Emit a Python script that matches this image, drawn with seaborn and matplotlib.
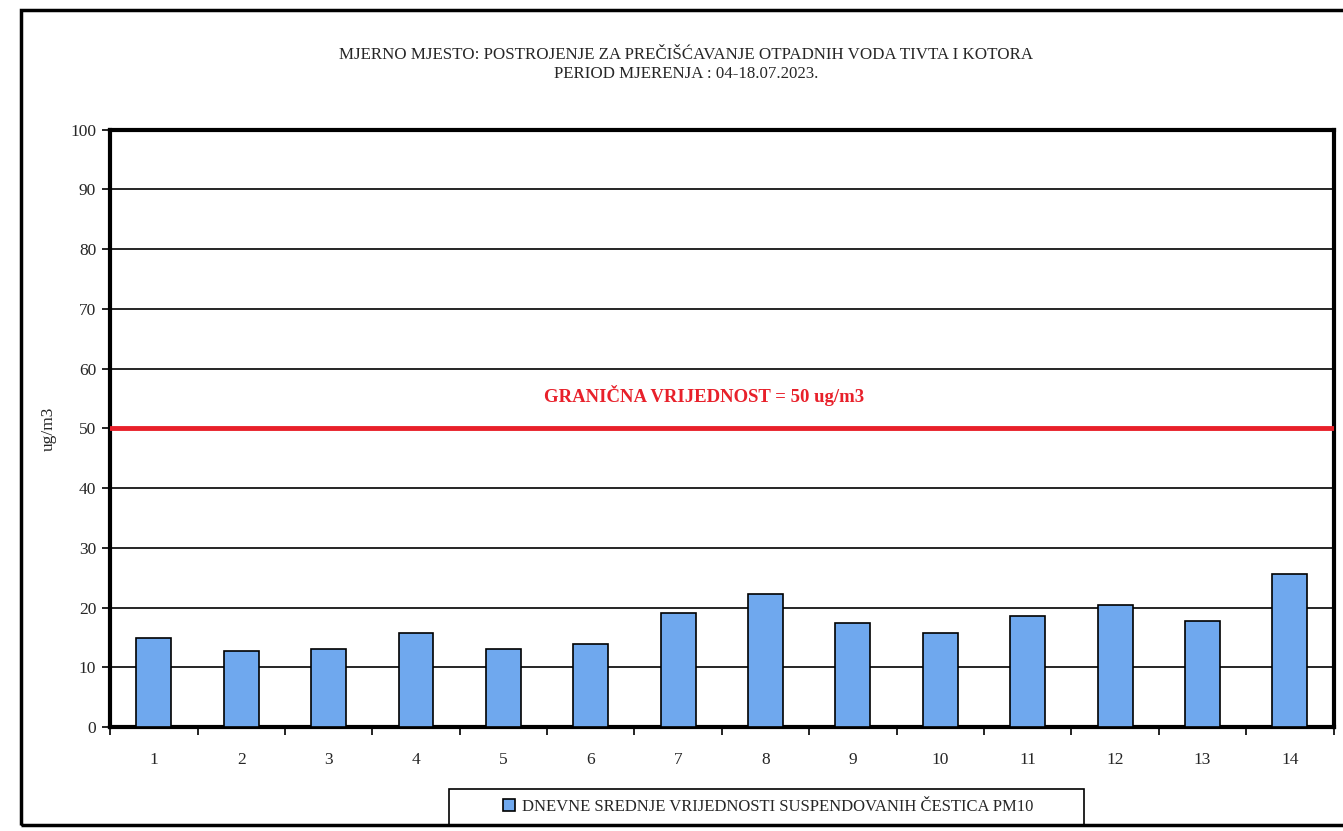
import matplotlib
matplotlib.use("Agg")
import matplotlib.pyplot as plt
import seaborn as sns
import pandas as pd
import numpy as np
from matplotlib.patches import Rectangle

days = [str(i) for i in range(1, 15)]
pm10 = [15.0, 12.8, 13.0, 15.7, 13.0, 13.9, 19.1, 22.2, 17.5, 15.8, 18.6, 20.5, 17.7, 25.6]
limit_value = 50
yticks = list(range(0, 101, 10))
title_lines = ["MJERNO MJESTO: POSTROJENJE ZA PREČIŠĆAVANJE OTPADNIH VODA TIVTA I KOTORA",
               "PERIOD MJERENJA : 04-18.07.2023."]
series_name = "DNEVNE SREDNJE VRIJEDNOSTI SUSPENDOVANIH ČESTICA PM10"
limit_label = "GRANIČNA VRIJEDNOST = 50 ug/m3"
ylabel = "ug/m3"

sns.set_theme(style="white")
plt.rcParams['font.family'] = ['Liberation Serif', 'DejaVu Serif']

df = pd.DataFrame({"day": days, "value": pm10})

fig = plt.figure(figsize=(13.43, 8.31), dpi=100)
ax = fig.add_axes([0.082, 0.125, 0.911, 0.719])

sns.barplot(data=df, x="day", y="value", ax=ax, color="#6fa8ee", saturation=1,
            width=0.4, edgecolor="black", linewidth=1.2, label=series_name, zorder=3)

ax.set_ylim(0, 100)
ax.set_xlim(-0.5, len(days) - 0.5)
ax.set_yticks(yticks)
ax.set_yticklabels([str(v) for v in yticks], fontsize=12.5)
for y in yticks[1:-1]:
    ax.axhline(y, color="black", lw=1.2, zorder=1)
ax.axhline(limit_value, color="#e8202a", lw=3.5, zorder=4)
ax.text(6.3, 55.5, limit_label, color="#e8202a", fontsize=13.5, fontweight="bold",
        ha="center", va="center", zorder=5)

ax.set_xticks(range(len(days)))
ax.set_xticklabels(days, fontsize=12.5)
ax.tick_params(axis="x", length=0, pad=18)
ax.set_xticks(np.arange(-0.5, len(days), 1), minor=True)
ax.tick_params(axis="x", which="minor", length=6, width=1.2, color="black", direction="out", bottom=True)
ax.tick_params(axis="y", length=6, width=1.2, color="black", direction="out", left=True, pad=4)

for s in ax.spines.values():
    s.set_color("black")
    s.set_linewidth(3)
    s.set_visible(True)

ax.set_xlabel("")
ax.set_ylabel(ylabel, fontsize=12.5, labelpad=10)

fig.text(0.511, 0.934, title_lines[0], ha="center", va="center", fontsize=12.2)
fig.text(0.511, 0.911, title_lines[1], ha="center", va="center", fontsize=12.2)

ax.legend(loc="center", bbox_to_anchor=(0.572, 0.029), bbox_transform=fig.transFigure,
          frameon=False, fontsize=12,
          handlelength=0.7, handleheight=0.7, borderpad=0.6, handletextpad=0.4)

# legend box and outer chart border
fig.patches.append(Rectangle((0.334, 0.007), 0.473, 0.043, transform=fig.transFigure,
                             fill=False, edgecolor="black", lw=1.2, zorder=10))
fig.patches.append(Rectangle((0.016, 0.007), 1.0, 0.981, transform=fig.transFigure,
                             fill=False, edgecolor="black", lw=2.5, zorder=10))

fig.savefig("out.png", dpi=100)
